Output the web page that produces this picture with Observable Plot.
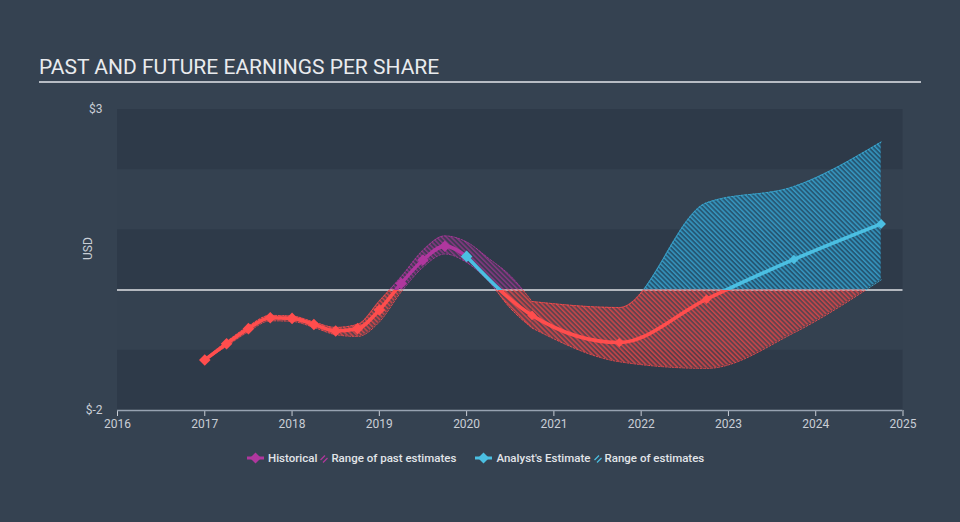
<!DOCTYPE html>
<html>
<head>
<meta charset="utf-8">
<script src="https://cdn.jsdelivr.net/npm/d3@7"></script>
<script src="https://cdn.jsdelivr.net/npm/@observablehq/plot@0.6"></script>
<style>
  html, body { margin: 0; padding: 0; }
  body { width: 960px; height: 522px; overflow: hidden; position: relative;
         background: #354251; font-family: Roboto, "Noto Sans", sans-serif; }
  #title { position: absolute; left: 39px; top: 57px; font-size: 21px; line-height: 21px;
           color: #e9ebee; letter-spacing: 0; white-space: nowrap; }
  #rule { position: absolute; left: 39px; top: 81px; width: 882px; height: 1.5px; background: #b7bcc4; }
  #chart { position: absolute; left: 0; top: 90px; }
  #legend { position: absolute; left: 247px; top: 450px; display: flex; align-items: center;
            font-size: 11.5px; font-weight: 500; color: #e2e5e9; height: 16px; white-space: nowrap; }
  #legend svg { display: block; }
</style>
</head>
<body>
<div id="title">PAST AND FUTURE EARNINGS PER SHARE</div>
<div id="rule"></div>
<div id="chart"></div>
<div id="legend"></div>
<script>
// ---------- data ----------
const xTicks = [2016, 2017, 2018, 2019, 2020, 2021, 2022, 2023, 2024, 2025];
const yTicks = [-2, 3];
const darkBandStarts = [-2, 0, 2];

const histYears = [2017, 2017.25, 2017.5, 2017.75, 2018, 2018.25, 2018.5, 2018.75, 2019, 2019.25, 2019.5, 2019.75, 2020];
const histEPS   = [-1.16, -0.89, -0.64, -0.46, -0.47, -0.57, -0.68, -0.64, -0.33, 0.11, 0.50, 0.73, 0.56];

const pastRangeYears = [2017, 2017.25, 2017.5, 2017.75, 2018, 2018.25, 2018.5, 2018.75, 2019, 2019.25, 2019.5, 2019.75, 2020, 2020.25, 2020.5, 2020.75];
const pastRangeLow   = [-1.17, -0.93, -0.69, -0.51, -0.52, -0.62, -0.74, -0.77, -0.53, -0.03, 0.38, 0.60, 0.46, 0.15, -0.30, -0.63];
const pastRangeHigh  = [-1.15, -0.86, -0.60, -0.42, -0.43, -0.53, -0.62, -0.57, -0.18, 0.22, 0.66, 0.90, 0.80, 0.53, 0.24, -0.19];

const estYears = [2020, 2020.75, 2021.75, 2022.75, 2023.75, 2024.75];
const estEPS   = [0.56, -0.42, -0.87, -0.15, 0.51, 1.10];

const estRangeYears = [2020.75, 2021.75, 2022.75, 2023.75, 2024.75];
const estRangeLow   = [-0.63, -1.19, -1.30, -0.71, 0.17];
const estRangeHigh  = [-0.19, -0.29, 1.45, 1.72, 2.46];

// ---------- styles ----------
const RED = "#ff4d4d", PURPLE = "#b0379e", BLUE = "#4bbfe2";

// ---------- tables ----------
const hist = histYears.map((x, i) => ({x, y: histEPS[i]}));
const est = estYears.map((x, i) => ({x, y: estEPS[i]}));
const pastRange = pastRangeYears.map((x, i) => ({x, low: pastRangeLow[i], high: pastRangeHigh[i]}));
const estRange = estRangeYears.map((x, i) => ({x, low: estRangeLow[i], high: estRangeHigh[i]}));

function bandMarks(data, hatchId, color, tag) {
  return [
    Plot.areaY(data, {x: "x", y1: "low", y2: "high", curve: "monotone-x", fill: `url(#${hatchId})`, ariaDescription: tag}),
    Plot.line(data, {x: "x", y: "low", curve: "monotone-x", stroke: color, strokeWidth: 1, strokeDasharray: "2,1.5", strokeOpacity: 0.85, ariaDescription: tag}),
    Plot.line(data, {x: "x", y: "high", curve: "monotone-x", stroke: color, strokeWidth: 1, strokeDasharray: "2,1.5", strokeOpacity: 0.85, ariaDescription: tag})
  ];
}

const W = 960, H = 350, mT = 19, mB = 30, mL = 117, mR = 57.5;

const chart = Plot.plot({
  width: W, height: H,
  marginTop: mT, marginBottom: mB, marginLeft: mL, marginRight: mR,
  style: {background: "transparent", color: "#c9ced6", fontFamily: "Roboto, 'Noto Sans', sans-serif", fontSize: "12px"},
  x: {domain: [xTicks[0], xTicks[xTicks.length - 1]], ticks: xTicks, tickFormat: d => String(d), tickSize: 6, tickPadding: 3, label: null},
  y: {domain: [yTicks[0], yTicks[yTicks.length - 1]], ticks: yTicks, tickFormat: d => "$" + d, tickSize: 0, tickPadding: 15, label: null},
  color: {type: "identity"},
  marks: [
    Plot.frame({fill: "#344150", stroke: null}),
    Plot.rect(darkBandStarts, {y1: d => d, y2: d => d + 1, fill: "#2e3a49"}),
    Plot.ruleY([0], {stroke: "#dfe1e4", strokeWidth: 1.5}),
    Plot.ruleY([yTicks[0]], {stroke: "#97a2b1", strokeWidth: 1.5}),
    Plot.text(["USD"], {frameAnchor: "left", dx: -29, rotate: -90, text: d => d, fill: "#c9ced6", fontSize: 12}),
    ...bandMarks(pastRange, "hatchPurple", PURPLE, "clip-above"),
    ...bandMarks(pastRange, "hatchRed", RED, "clip-below"),
    ...bandMarks(estRange, "hatchBlue", "#3eaed6", "clip-above"),
    ...bandMarks(estRange, "hatchRed", RED, "clip-below"),
    Plot.line(hist, {x: "x", y: "y", curve: "monotone-x", stroke: PURPLE, strokeWidth: 3.6, ariaDescription: "clip-above"}),
    Plot.line(hist, {x: "x", y: "y", curve: "monotone-x", stroke: RED, strokeWidth: 3.6, ariaDescription: "clip-below"}),
    Plot.line(est, {x: "x", y: "y", curve: "monotone-x", stroke: BLUE, strokeWidth: 3.6, ariaDescription: "clip-above"}),
    Plot.line(est, {x: "x", y: "y", curve: "monotone-x", stroke: RED, strokeWidth: 3.6, ariaDescription: "clip-below"}),
    Plot.dot(hist.slice(0, -1), {x: "x", y: "y", symbol: "diamond2", r: 5.2, fill: d => d.y >= 0 ? PURPLE : RED, stroke: null}),
    Plot.dot(est.slice(0, 1), {x: "x", y: "y", symbol: "diamond2", r: 5.2, fill: BLUE, stroke: null}),
    Plot.dot(est.slice(1), {x: "x", y: "y", symbol: "diamond2", r: 4.3, fill: d => d.y >= 0 ? BLUE : RED, stroke: null})
  ]
});

// defs: hatch patterns and clip paths split at zero (same linear mapping as the y scale)
const yMax = yTicks[yTicks.length - 1], yMin = yTicks[0];
const y0 = mT + (yMax - 0) / (yMax - yMin) * (H - mT - mB);
const svg = d3.select(chart);
const defs = svg.append("defs");
function hatch(id, bgColor, bgOpacity, color, lineOpacity) {
  const p = defs.append("pattern").attr("id", id).attr("patternUnits", "userSpaceOnUse")
    .attr("width", 3.4).attr("height", 3.4).attr("patternTransform", "rotate(-45)");
  p.append("rect").attr("width", 3.4).attr("height", 3.4).attr("fill", bgColor).attr("fill-opacity", bgOpacity);
  p.append("rect").attr("x", 0).attr("y", 0).attr("width", 1.5).attr("height", 3.4).attr("fill", color).attr("fill-opacity", lineOpacity);
}
hatch("hatchRed", "#f04848", 0.25, "#f04848", 0.72);
hatch("hatchBlue", "#1d6f96", 0.55, "#3aa6d2", 0.8);
hatch("hatchPurple", PURPLE, 0.14, PURPLE, 0.6);
defs.append("clipPath").attr("id", "cpAbove").attr("clipPathUnits", "userSpaceOnUse").append("rect")
  .attr("x", 0).attr("y", 0).attr("width", W).attr("height", y0);
defs.append("clipPath").attr("id", "cpBelow").attr("clipPathUnits", "userSpaceOnUse").append("rect")
  .attr("x", 0).attr("y", y0).attr("width", W).attr("height", H - y0);
svg.selectAll('g[aria-description="clip-above"]').attr("clip-path", "url(#cpAbove)");
svg.selectAll('g[aria-description="clip-below"]').attr("clip-path", "url(#cpBelow)");

document.getElementById("chart").appendChild(chart);

// ---------- legend ----------
const legendItems = [
  {kind: "line", color: PURPLE, text: "Historical"},
  {kind: "hatch", color: PURPLE, text: "Range of past estimates"},
  {kind: "line", color: BLUE, text: "Analyst's Estimate"},
  {kind: "hatch", color: BLUE, text: "Range of estimates"}
];
const legend = document.getElementById("legend");
legendItems.forEach((it, i) => {
  const ns = "http://www.w3.org/2000/svg";
  const s = document.createElementNS(ns, "svg");
  if (it.kind === "line") {
    s.setAttribute("width", 17); s.setAttribute("height", 12);
    s.innerHTML = `<line x1="0" y1="6" x2="17" y2="6" stroke="${it.color}" stroke-width="3"/>` +
                  `<path d="M8.5,0.5 L14,6 L8.5,11.5 L3,6Z" fill="${it.color}"/>`;
    s.style.marginLeft = i === 0 ? "0px" : "19px";
    s.style.marginRight = "4px";
  } else {
    s.setAttribute("width", 8); s.setAttribute("height", 10);
    s.innerHTML = `<line x1="0.5" y1="7" x2="5" y2="2.5" stroke="${it.color}" stroke-width="1.3"/>` +
                  `<line x1="3" y1="9.5" x2="7.5" y2="5" stroke="${it.color}" stroke-width="1.3"/>`;
    s.style.marginLeft = "3px";
    s.style.marginRight = "3px";
  }
  legend.appendChild(s);
  const t = document.createElement("span");
  t.textContent = it.text;
  legend.appendChild(t);
});
</script>
</body>
</html>
